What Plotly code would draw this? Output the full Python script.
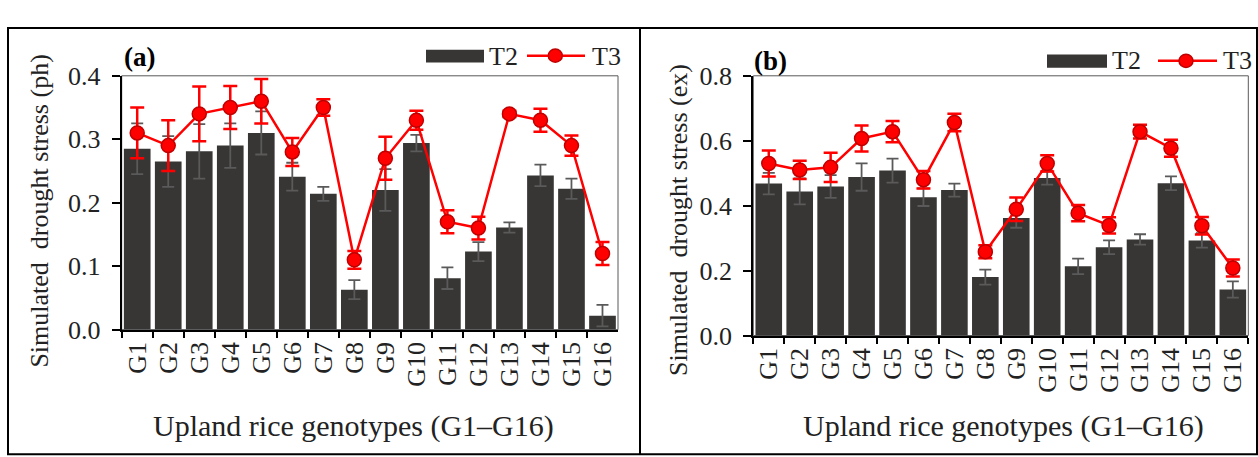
import plotly.graph_objects as go

W, H = 1258, 457

genotypes = ["G1", "G2", "G3", "G4", "G5", "G6", "G7", "G8",
             "G9", "G10", "G11", "G12", "G13", "G14", "G15", "G16"]

# Panel (a): simulated drought stress (ph)
ph_t2 = [0.285, 0.265, 0.281, 0.290, 0.310, 0.241, 0.214, 0.063,
         0.220, 0.294, 0.081, 0.123, 0.161, 0.243, 0.222, 0.022]
ph_t2_err = [0.040, 0.040, 0.043, 0.035, 0.034, 0.022, 0.011, 0.015,
             0.033, 0.013, 0.017, 0.015, 0.008, 0.017, 0.016, 0.017]
ph_t3 = [0.310, 0.290, 0.340, 0.350, 0.360, 0.280, 0.350, 0.110,
         0.270, 0.330, 0.170, 0.160, 0.340, 0.330, 0.290, 0.120]
ph_t3_err = [0.040, 0.040, 0.043, 0.034, 0.035, 0.022, 0.013, 0.014,
             0.034, 0.015, 0.018, 0.018, 0.005, 0.018, 0.016, 0.018]

# Panel (b): simulated drought stress (ex)
ex_t2 = [0.468, 0.444, 0.459, 0.488, 0.508, 0.426, 0.448, 0.180,
         0.362, 0.485, 0.213, 0.272, 0.296, 0.469, 0.293, 0.142]
ex_t2_err = [0.033, 0.040, 0.035, 0.042, 0.037, 0.027, 0.020, 0.023,
             0.030, 0.020, 0.024, 0.021, 0.016, 0.021, 0.022, 0.025]
ex_t3 = [0.530, 0.510, 0.518, 0.607, 0.628, 0.480, 0.656, 0.258,
         0.389, 0.530, 0.377, 0.339, 0.628, 0.577, 0.338, 0.208]
ex_t3_err = [0.040, 0.028, 0.045, 0.040, 0.033, 0.027, 0.027, 0.020,
             0.036, 0.025, 0.025, 0.025, 0.021, 0.026, 0.027, 0.026]

FONT = "Liberation Serif, Times New Roman, serif"
BAR_COLOR = "#383634"
RED = "#ff0000"
TXT = "#222222"


def px(x):
    return x / W


def py(y):
    return 1 - y / H


fig = go.Figure()

panels = [
    dict(x="x", y="y", t2=ph_t2, t2e=ph_t2_err, t3=ph_t3, t3e=ph_t3_err),
    dict(x="x2", y="y2", t2=ex_t2, t2e=ex_t2_err, t3=ex_t3, t3e=ex_t3_err),
]
for p in panels:
    fig.add_trace(go.Bar(
        x=genotypes, y=p["t2"], name="T2", xaxis=p["x"], yaxis=p["y"],
        marker=dict(color=BAR_COLOR, line=dict(width=0)),
        error_y=dict(type="data", array=p["t2e"], color="#5a5a5a",
                     thickness=1.8, width=6),
        showlegend=False))
    fig.add_trace(go.Scatter(
        x=genotypes, y=p["t3"], name="T3", xaxis=p["x"], yaxis=p["y"],
        mode="lines+markers",
        line=dict(color=RED, width=2.5),
        marker=dict(symbol="circle", size=14, color=RED,
                    line=dict(color="#c00000", width=1.5)),
        error_y=dict(type="data", array=p["t3e"], color=RED,
                     thickness=2.5, width=7),
        showlegend=False))

xcommon = dict(type="category", range=[-0.5, 15.5], showline=True,
               linecolor="black", linewidth=2, mirror=False,
               tickmode="array", tickvals=genotypes, ticktext=genotypes,
               ticks="outside", tickson="boundaries", ticklen=6,
               tickwidth=2, tickcolor="black", tickangle=-90,
               showgrid=False, zeroline=False,
               tickfont=dict(family=FONT, size=26, color=TXT))
ycommon = dict(showline=True, linecolor="black", linewidth=2, mirror=False,
               ticks="outside", ticklen=8, tickwidth=2, tickcolor="black",
               showgrid=False, zeroline=False, tickformat=".1f",
               ticklabelstandoff=6,
               tickfont=dict(family=FONT, size=26, color=TXT))

fig.update_layout(
    width=W, height=H,
    margin=dict(l=0, r=0, t=0, b=0),
    paper_bgcolor="white", plot_bgcolor="white",
    font=dict(family=FONT, size=24, color=TXT),
    bargap=0.14,
    xaxis=dict(xcommon, domain=[px(121.7), px(618)], anchor="y"),
    yaxis=dict(ycommon, domain=[py(337), py(66)], range=[0, 0.4],
               dtick=0.1, anchor="x"),
    xaxis2=dict(xcommon, domain=[px(753.3), px(1248.3)], anchor="y2"),
    yaxis2=dict(ycommon, domain=[py(343.3), py(66)], range=[0, 0.8],
                dtick=0.2, anchor="x2"),
    showlegend=False,
)

shapes = []
# plot-area frames (thin)
for xr, yr in [("x domain", "y domain"), ("x2 domain", "y2 domain")]:
    shapes.append(dict(type="rect", xref=xr, yref=yr, x0=0, x1=1, y0=0, y1=1,
                       line=dict(color="#595959", width=1), layer="below"))
# outer frames
shapes.append(dict(type="rect", xref="paper", yref="paper",
                   x0=px(8), x1=px(1257), y0=py(470), y1=py(15),
                   line=dict(color="black", width=2)))
shapes.append(dict(type="line", xref="paper", yref="paper",
                   x0=px(640), x1=px(640), y0=py(470), y1=py(15),
                   line=dict(color="black", width=2)))

annotations = []
# custom legends
legends = [
    dict(sw=(426, 484, 38.3, 51.7), t2x=487, ln=(527, 585), mk=(555.3, 44.5), t3x=590, ty=45),
    dict(sw=(1047, 1107, 43.3, 57.3), t2x=1110, ln=(1158, 1217), mk=(1186, 50), t3x=1221, ty=50),
]
for L in legends:
    x0, x1, y0, y1 = L["sw"]
    shapes.append(dict(type="rect", xref="paper", yref="paper",
                       x0=px(x0), x1=px(x1), y0=py(y1), y1=py(y0),
                       fillcolor=BAR_COLOR, line=dict(width=0)))
    shapes.append(dict(type="line", xref="paper", yref="paper",
                       x0=px(L["ln"][0]), x1=px(L["ln"][1]),
                       y0=py(L["mk"][1]), y1=py(L["mk"][1]),
                       line=dict(color=RED, width=2.5)))
    cx, cy = L["mk"]
    r = 7
    shapes.append(dict(type="circle", xref="paper", yref="paper",
                       x0=px(cx - r), x1=px(cx + r), y0=py(cy + r), y1=py(cy - r),
                       fillcolor=RED, line=dict(color="#c00000", width=1.5)))
    for txt, tx in [("T2", L["t2x"]), ("T3", L["t3x"])]:
        annotations.append(dict(text=txt, xref="paper", yref="paper",
                                x=px(tx), y=py(L["ty"]), xanchor="left",
                                yanchor="middle", showarrow=False,
                                font=dict(family=FONT, size=26, color=TXT)))

# panel labels
annotations.append(dict(text="<b>(a)</b>", xref="paper", yref="paper",
                        x=px(122), y=py(46), xanchor="left", yanchor="middle",
                        showarrow=False, font=dict(family=FONT, size=27, color="black")))
annotations.append(dict(text="<b>(b)</b>", xref="paper", yref="paper",
                        x=px(752), y=py(50), xanchor="left", yanchor="middle",
                        showarrow=False, font=dict(family=FONT, size=27, color="black")))

# axis titles
xtitle = "Upland rice genotypes (G1\u2013G16)"
annotations.append(dict(text=xtitle, xref="paper", yref="paper",
                        x=px(353), y=py(440), xanchor="center", yanchor="middle",
                        showarrow=False, font=dict(family=FONT, size=30, color=TXT)))
annotations.append(dict(text=xtitle, xref="paper", yref="paper",
                        x=px(1003), y=py(440), xanchor="center", yanchor="middle",
                        showarrow=False, font=dict(family=FONT, size=30, color=TXT)))
annotations.append(dict(text="Simulated\u00a0 drought stress (ph)", xref="paper", yref="paper",
                        x=px(40), y=py(211), xanchor="center", yanchor="middle",
                        textangle=-90, showarrow=False,
                        font=dict(family=FONT, size=26, color=TXT)))
annotations.append(dict(text="Simulated\u00a0 drought stress (ex)", xref="paper", yref="paper",
                        x=px(678), y=py(220), xanchor="center", yanchor="middle",
                        textangle=-90, showarrow=False,
                        font=dict(family=FONT, size=26, color=TXT)))

fig.update_layout(shapes=shapes, annotations=annotations)

fig.write_html("out.html")
